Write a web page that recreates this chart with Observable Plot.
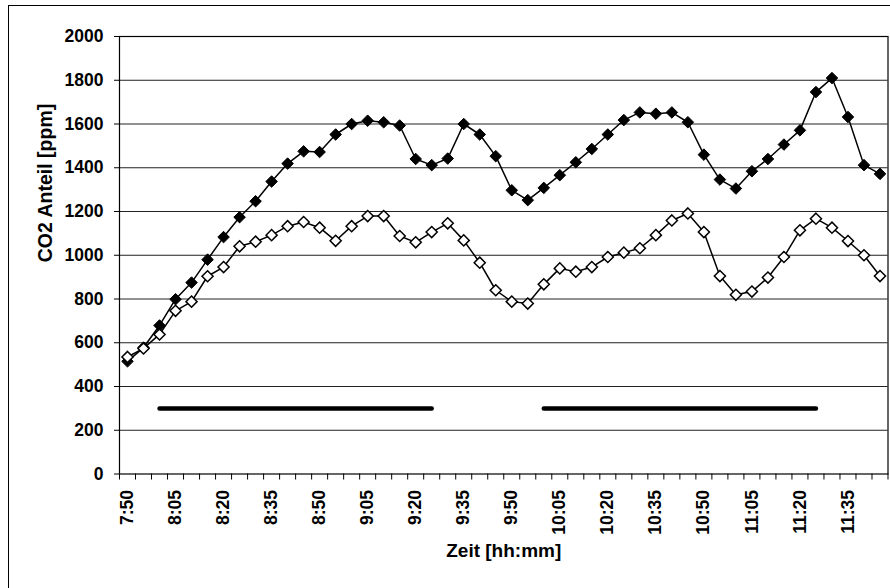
<!DOCTYPE html>
<html>
<head>
<meta charset="utf-8">
<script src="https://cdn.jsdelivr.net/npm/d3@7"></script>
<script src="https://cdn.jsdelivr.net/npm/@observablehq/plot@0.6"></script>
<style>
  html, body { margin: 0; padding: 0; background: #fff; overflow: hidden; width: 890px; height: 588px; }
  #frame { position: absolute; left: 8px; top: 5px; width: 900px; height: 600px; border: 1px solid #000; box-sizing: border-box; }
  #chart { position: absolute; left: 0; top: 0; }
  #chart svg { background: transparent; }
</style>
</head>
<body>
<div id="frame"></div>
<div id="chart"></div>
<script>
const times = ["7:50","7:55","8:00","8:05","8:10","8:15","8:20","8:25","8:30","8:35","8:40","8:45",
  "8:50","8:55","9:00","9:05","9:10","9:15","9:20","9:25","9:30","9:35","9:40","9:45",
  "9:50","9:55","10:00","10:05","10:10","10:15","10:20","10:25","10:30","10:35","10:40","10:45",
  "10:50","10:55","11:00","11:05","11:10","11:15","11:20","11:25","11:30","11:35","11:40","11:45"];

const seriesFilled = [515, 578, 679, 799, 875, 980, 1083, 1174, 1247, 1337, 1419, 1475,
  1472, 1552, 1600, 1615, 1608, 1593, 1440, 1412, 1442, 1600, 1552, 1453,
  1297, 1252, 1308, 1366, 1425, 1486, 1552, 1618, 1653, 1647, 1653, 1608,
  1460, 1346, 1305, 1384, 1440, 1506, 1571, 1746, 1810, 1632, 1412, 1372];

const seriesOpen = [535, 574, 638, 746, 788, 904, 946, 1041, 1062, 1092, 1133, 1152,
  1126, 1066, 1133, 1179, 1179, 1088, 1059, 1106, 1146, 1068, 966, 840,
  788, 779, 867, 940, 925, 946, 992, 1012, 1032, 1092, 1159, 1191,
  1106, 905, 819, 834, 898, 992, 1114, 1167, 1126, 1065, 1000, 905];

const aktiv = [null, null, 300, 300, 300, 300, 300, 300, 300, 300, 300, 300,
  300, 300, 300, 300, 300, 300, 300, 300, null, null, null, null,
  null, null, 300, 300, 300, 300, 300, 300, 300, 300, 300, 300,
  300, 300, 300, 300, 300, 300, 300, 300, null, null, null, null];

const xTickLabels = ["7:50","8:05","8:20","8:35","8:50","9:05","9:20","9:35","9:50",
  "10:05","10:20","10:35","10:50","11:05","11:20","11:35"];
const yTicks = [0, 200, 400, 600, 800, 1000, 1200, 1400, 1600, 1800, 2000];
const yGrid = [200, 400, 600, 800, 1000, 1200, 1400, 1600, 1800];

const dataFilled = times.map((t, i) => ({i, v: seriesFilled[i]}));
const dataOpen = times.map((t, i) => ({i, v: seriesOpen[i]}));
const dataAktiv = times.map((t, i) => ({i, v: aktiv[i]}));
const labelIdx = xTickLabels.map(l => times.indexOf(l));
const boundaries = times.map((t, i) => i - 0.5).concat([times.length - 0.5]);

const font = "'Liberation Sans', Arial, sans-serif";

const chart = Plot.plot({
  width: 890,
  height: 588,
  marginLeft: 119,
  marginRight: 2.5,
  marginTop: 36,
  marginBottom: 114.5,
  style: {fontFamily: font, background: "transparent", color: "#000", overflow: "visible"},
  x: {type: "linear", domain: [-0.5, times.length - 0.5], axis: null},
  y: {domain: [0, 2000], axis: null},
  marks: [
    Plot.ruleY(yGrid, {stroke: "#222", strokeWidth: 1}),
    Plot.frame({stroke: "#000", strokeWidth: 1.2}),
    Plot.axisY(yTicks, {tickSize: 5, tickPadding: 11, tickFormat: d => String(d), fontSize: 17.5,
      fontWeight: "bold", label: null, stroke: "#000"}),
    Plot.axisX(boundaries, {tickSize: 6, tickFormat: () => "", label: null, stroke: "#000"}),
    Plot.text(labelIdx, {x: d => d, frameAnchor: "bottom", dy: 16, rotate: -90, textAnchor: "end",
      lineAnchor: "middle", text: d => times[d], fontSize: 17.5, fontWeight: "bold", fill: "#000"}),
    Plot.line(dataAktiv, {x: "i", y: "v", stroke: "#000", strokeWidth: 4.5, strokeLinecap: "round"}),
    Plot.line(dataFilled, {x: "i", y: "v", stroke: "#000", strokeWidth: 1.5}),
    Plot.dot(dataFilled, {x: "i", y: "v", symbol: "diamond2", r: 5.2, fill: "#000", stroke: "#000", strokeWidth: 1}),
    Plot.line(dataOpen, {x: "i", y: "v", stroke: "#000", strokeWidth: 1.5}),
    Plot.dot(dataOpen, {x: "i", y: "v", symbol: "diamond2", r: 5, fill: "#fff", stroke: "#000", strokeWidth: 1.5}),
    Plot.text(["CO2 Anteil [ppm]"], {frameAnchor: "left", dx: -74, dy: 7, rotate: -90, fontSize: 19.5,
      fontWeight: "bold", fill: "#000"}),
    Plot.text(["Zeit [hh:mm]"], {frameAnchor: "bottom", dy: 83, fontSize: 19, fontWeight: "bold", fill: "#000"})
  ]
});
document.getElementById("chart").appendChild(chart);
</script>
</body>
</html>
